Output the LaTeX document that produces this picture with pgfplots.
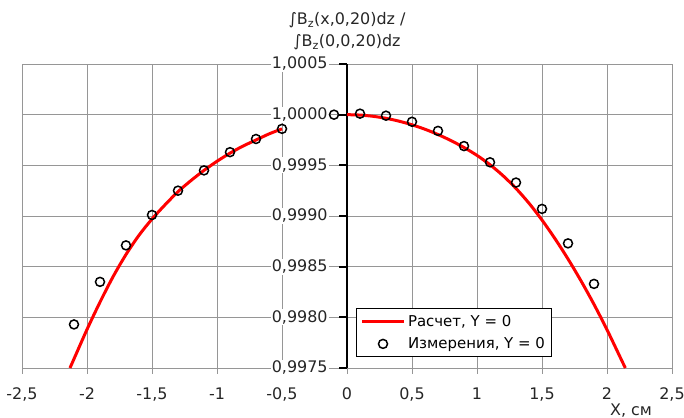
\documentclass[border=0pt]{standalone}
\usepackage{fontspec}
\setmainfont{DejaVu Sans}
\usepackage{pgfplots}
\pgfplotsset{compat=1.18}
\definecolor{gridgray}{RGB}{150,150,150}
\pgfplotsset{
  longline/.style={legend image code/.code={\draw[##1] (0bp,0bp) -- (42bp,0bp);}},
  centermark/.style={legend image code/.code={\draw[##1] plot coordinates {(21bp,0bp)};}},
}
\tikzset{
  ylab/.style={anchor=east, fill=white, inner sep=1bp, font=\fontsize{16}{19}\selectfont, text=black!85},
  xlab/.style={anchor=north, inner sep=0pt, font=\fontsize{16}{19}\selectfont, text=black!85},
}
\begin{document}
\begin{tikzpicture}
\begin{axis}[
  at={(22bp,50bp)}, anchor=south west,
  scale only axis, width=650bp, height=304bp,
  xmin=-2.5, xmax=2.5, ymin=0.9975, ymax=1.0005,
  clip=false,
  axis x line=bottom, axis y line=center,
  hide obscured x ticks=false, hide obscured y ticks=false,
  x axis line style={draw=gridgray, line width=0.8bp, -},
  y axis line style={draw=black, line width=2.8bp, -},
  xtick={-2.5,-2,-1.5,-1,-0.5,0,0.5,1,1.5,2,2.5},
  ytick={0.9975,0.998,0.9985,0.999,0.9995,1,1.0005},
  xticklabels={}, yticklabels={},
  grid=major, grid style={draw=gridgray, line width=0.8bp},
  tick align=outside, major tick length=6bp,
  x tick style={draw=gridgray, line width=0.8bp},
  y tick style={draw=none},
  scaled x ticks=false, scaled y ticks=false,
  legend style={at={(0.514,0.197)}, anchor=north west, draw=black, line width=0.8bp, fill=white,
    font=\fontsize{15}{18}\selectfont, row sep=5bp, inner sep=4bp,
    nodes={inner sep=2.5bp}},
  legend cell align=left,
]
\addplot[red, line width=3bp, smooth, longline] coordinates {
(-2.131,0.99750) (-2.1,0.99759) (-2.0,0.99788) (-1.9,0.99815) (-1.8,0.99840)
(-1.7,0.99862) (-1.6,0.99881) (-1.5,0.99897) (-1.4,0.99911) (-1.3,0.99924)
(-1.2,0.99935) (-1.1,0.99945) (-1.0,0.99954) (-0.9,0.99962) (-0.8,0.99969)
(-0.7,0.99975) (-0.6,0.99981) (-0.5,0.99986)
};
\addlegendentry{Расчет, Y = 0}
\addplot[red, line width=3bp, smooth, forget plot] coordinates {
(0,1.000000) (0.1,0.999996) (0.2,0.999984) (0.3,0.999964) (0.4,0.999936)
(0.5,0.999900) (0.6,0.999856) (0.7,0.999804) (0.8,0.999744) (0.9,0.999676)
(1.0,0.999598) (1.1,0.999506) (1.2,0.999398) (1.3,0.999272) (1.4,0.999126)
(1.5,0.998960) (1.6,0.998776) (1.7,0.998576) (1.8,0.998360) (1.9,0.998128)
(2.0,0.997878) (2.1,0.997610) (2.141,0.997500)
};
\addplot[only marks, mark=o, mark size=4.5bp, mark options={line width=1.5bp, draw=black}, centermark] coordinates {
(-2.1,0.99793) (-1.9,0.99835) (-1.7,0.99871) (-1.5,0.99901) (-1.3,0.99925)
(-1.1,0.99945) (-0.9,0.99963) (-0.7,0.99976) (-0.5,0.99986) (-0.1,1.00000)
(0.1,1.00001) (0.3,0.99999) (0.5,0.99993) (0.7,0.99984) (0.9,0.99969)
(1.1,0.99953) (1.3,0.99933) (1.5,0.99907) (1.7,0.99873) (1.9,0.99833)
};
\addlegendentry{Измерения, Y = 0}
% y tick marks and labels beside the axis at x = 0
\draw[black, line width=2bp] (axis cs:-0.06,0.9975) -- (axis cs:0,0.9975);
\draw[black, line width=2bp] (axis cs:-0.06,0.9980) -- (axis cs:0,0.9980);
\draw[black, line width=2bp] (axis cs:-0.06,0.9985) -- (axis cs:0,0.9985);
\draw[black, line width=2bp] (axis cs:-0.06,0.9990) -- (axis cs:0,0.9990);
\draw[black, line width=2bp] (axis cs:-0.06,0.9995) -- (axis cs:0,0.9995);
\draw[black, line width=2bp] (axis cs:-0.06,1.0000) -- (axis cs:0,1.0000);
\draw[black, line width=2bp] (axis cs:-0.06,1.0005) -- (axis cs:0,1.0005);
\node[ylab] at (axis cs:-0.14,0.9975) {0,9975};
\node[ylab] at (axis cs:-0.14,0.9980) {0,9980};
\node[ylab] at (axis cs:-0.14,0.9985) {0,9985};
\node[ylab] at (axis cs:-0.14,0.9990) {0,9990};
\node[ylab] at (axis cs:-0.14,0.9995) {0,9995};
\node[ylab] at (axis cs:-0.14,1.0000) {1,0000};
\node[ylab] at (axis cs:-0.14,1.0005) {1,0005};
% x tick labels
\node[xlab] at (axis cs:-2.5,0.99731) {-2,5};
\node[xlab] at (axis cs:-2.0,0.99731) {-2};
\node[xlab] at (axis cs:-1.5,0.99731) {-1,5};
\node[xlab] at (axis cs:-1.0,0.99731) {-1};
\node[xlab] at (axis cs:-0.5,0.99731) {-0,5};
\node[xlab] at (axis cs:0,0.99731) {0};
\node[xlab] at (axis cs:0.5,0.99731) {0,5};
\node[xlab] at (axis cs:1.0,0.99731) {1};
\node[xlab] at (axis cs:1.5,0.99731) {1,5};
\node[xlab] at (axis cs:2.0,0.99731) {2};
\node[xlab] at (axis cs:2.5,0.99731) {2,5};
\end{axis}
\node[anchor=base, font=\fontsize{16}{19}\selectfont, text=black!85] at (347bp,393bp) {∫B\textsubscript{z}(x,0,20)dz /};
\node[anchor=base, font=\fontsize{16}{19}\selectfont, text=black!85] at (347bp,371bp) {∫B\textsubscript{z}(0,0,20)dz};
\node[anchor=base, font=\fontsize{16}{19}\selectfont, text=black!85] at (631bp,3bp) {X, см};
\pgfresetboundingbox
\path (0bp,0bp) rectangle (684bp,418bp);
\end{tikzpicture}
\end{document}
